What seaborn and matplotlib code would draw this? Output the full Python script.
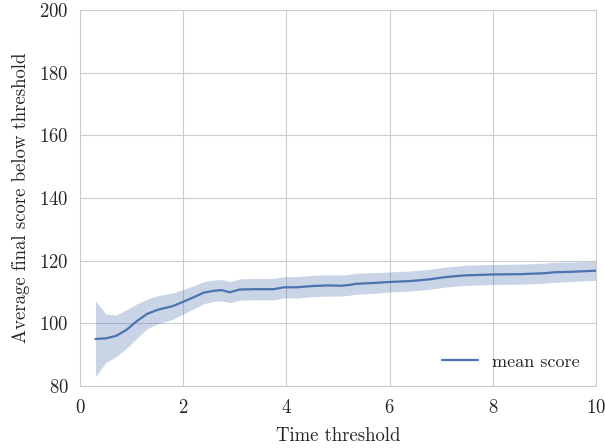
import matplotlib
matplotlib.use("Agg")
import matplotlib.pyplot as plt
import seaborn as sns
import pandas as pd

# Data
time_threshold = [0.3, 0.5, 0.7, 0.9, 1.1, 1.3, 1.5, 1.8, 2.0, 2.2, 2.4, 2.6,
                  2.75, 2.9, 3.1, 3.4, 3.75, 3.95, 4.2, 4.5, 4.8, 5.05, 5.2,
                  5.35, 5.7, 6.0, 6.4, 6.75, 7.1, 7.45, 8.0, 8.55, 9.0, 9.2,
                  9.6, 10.0]
mean_score = [95.0, 95.2, 96.0, 97.9, 100.7, 103.0, 104.3, 105.5, 106.9, 108.3,
              109.8, 110.4, 110.6, 109.9, 110.8, 110.9, 110.9, 111.5, 111.5,
              111.9, 112.1, 112.0, 112.2, 112.6, 112.9, 113.2, 113.5, 114.0,
              114.8, 115.3, 115.6, 115.7, 116.0, 116.3, 116.5, 116.8]
lower_bound = [83.0, 87.5, 89.4, 92.0, 95.2, 98.3, 99.8, 101.3, 103.0, 104.6,
               106.3, 107.0, 107.2, 106.6, 107.4, 107.5, 107.5, 108.1, 108.1,
               108.5, 108.7, 108.7, 108.9, 109.3, 109.6, 110.0, 110.3, 110.8,
               111.6, 112.1, 112.4, 112.5, 112.8, 113.1, 113.4, 113.7]
upper_bound = [107.2, 103.0, 102.7, 104.3, 106.2, 107.7, 108.8, 109.7, 110.8,
               112.0, 113.3, 113.8, 114.0, 113.3, 114.2, 114.3, 114.3, 114.9,
               114.9, 115.3, 115.5, 115.4, 115.6, 116.0, 116.2, 116.4, 116.7,
               117.2, 118.0, 118.5, 118.8, 118.9, 119.2, 119.5, 119.6, 119.9]

sns.set_style("whitegrid")
plt.rcParams["font.family"] = ["cmr10", "DejaVu Serif"]
plt.rcParams["axes.formatter.use_mathtext"] = True
plt.rcParams["mathtext.fontset"] = "cm"

df = pd.DataFrame({"t": time_threshold, "score": mean_score,
                   "lo": lower_bound, "hi": upper_bound})

fig = plt.figure(figsize=(6.05, 4.48), dpi=100)
ax = fig.add_axes([80 / 605, 1 - 386 / 448, (596 - 80) / 605, (386 - 10) / 448])

color = sns.color_palette("deep")[0]
ax.fill_between(df["t"], df["lo"], df["hi"], color=color, alpha=0.3, linewidth=0)
sns.lineplot(data=df, x="t", y="score", ax=ax, color=color, linewidth=1.6,
             label="mean score")

ax.set_xlim(0, 10)
ax.set_ylim(80, 200)
ax.set_xticks([0, 2, 4, 6, 8, 10])
ax.set_yticks([80, 100, 120, 140, 160, 180, 200])
ax.tick_params(axis="x", labelsize=13.5, pad=6)
ax.tick_params(axis="y", labelsize=13.5, pad=4.5)
ax.set_xlabel("Time threshold", fontsize=13.5, labelpad=7)
ax.set_ylabel("Average final score below threshold", fontsize=13.5, labelpad=7)
ax.legend(loc="lower right", frameon=False, fontsize=13)

fig.savefig("out.png", dpi=100)
